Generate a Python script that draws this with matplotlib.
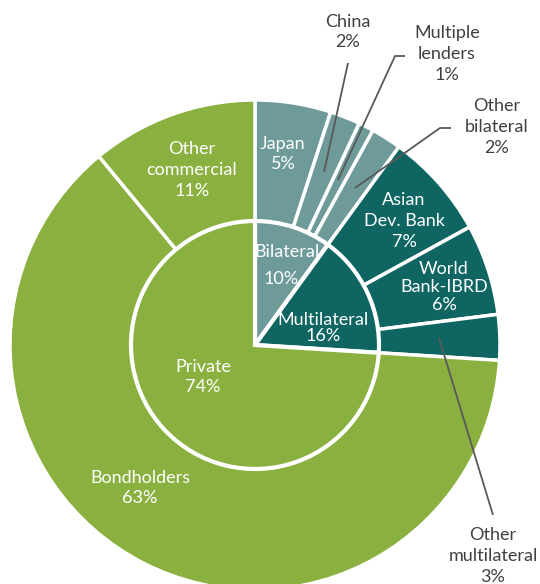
import matplotlib.pyplot as plt

# inner ring (lender type) and outer ring (lender)
inner_labels = ["Bilateral", "Multilateral", "Private"]
inner_values = [10, 16, 74]
outer_labels = ["Japan", "China", "Multiple\nlenders", "Other\nbilateral",
                "Asian\nDev. Bank", "World\nBank-IBRD", "Other\nmultilateral",
                "Bondholders", "Other\ncommercial"]
outer_values = [5, 2, 1, 2, 7, 6, 3, 63, 11]
outer_group = [0, 0, 0, 0, 1, 1, 1, 2, 2]

colors = ["#6e9a9a", "#0e6561", "#8ab040"]
W, H = 540, 584
cx, cy = 255, H - 345
plt.rcParams['font.family'] = ['Lato', 'DejaVu Sans']

fig = plt.figure(figsize=(W / 100, H / 100), dpi=100)
ax = fig.add_axes([0, 0, 1, 1])

ax.pie(outer_values, colors=[colors[g] for g in outer_group], radius=245,
       center=(cx, cy), startangle=90, counterclock=False,
       wedgeprops=dict(edgecolor="white", linewidth=2.5))
ax.pie(inner_values, colors=colors, radius=124, center=(cx, cy),
       startangle=90, counterclock=False,
       wedgeprops=dict(edgecolor="white", linewidth=3))

ax.set_xlim(0, W)
ax.set_ylim(0, H)
ax.set_aspect("equal")
ax.axis("off")

FS = 13


def lab(x, y, s, col="white", ls=1.38):
    ax.text(x, H - y, s, color=col, fontsize=FS, ha="center", va="center",
            linespacing=ls)


def fmt(name, v):
    return "%s\n%d%%" % (name, v)


grey = "#404040"
# outer ring labels
lab(283, 154, fmt(outer_labels[0], outer_values[0]))
lab(348, 32, fmt(outer_labels[1], outer_values[1]), grey)
lab(447, 54, fmt(outer_labels[2], outer_values[2]), grey)
lab(497, 127, fmt(outer_labels[3], outer_values[3]), grey)
lab(404, 221, fmt(outer_labels[4], outer_values[4]))
lab(444, 287, fmt(outer_labels[5], outer_values[5]), ls=1.15)
lab(493, 556, fmt(outer_labels[6], outer_values[6]), grey)
lab(140, 488, fmt(outer_labels[7], outer_values[7]))
lab(192, 170, fmt(outer_labels[8], outer_values[8]))
# inner labels
ax.text(287, H - 252, inner_labels[0], color="white", fontsize=FS,
        ha="center", va="center")
ax.text(281, H - 279, "%d%%" % inner_values[0], color="white", fontsize=FS,
        ha="center", va="center")
lab(323, 328, fmt(inner_labels[1], inner_values[1]), ls=1.05)
lab(203, 377, fmt(inner_labels[2], inner_values[2]))

# leader lines
leaders = [
    [(348, 63), (324, 172)],
    [(405, 56), (395, 56), (338, 180)],
    [(451, 128), (440, 128), (355, 188)],
    [(439, 338), (493, 515)],
]
for pts in leaders:
    ax.plot([p[0] for p in pts], [H - p[1] for p in pts], color="#595959",
            lw=1.3, solid_capstyle="butt")

fig.savefig("out.png", dpi=100)
